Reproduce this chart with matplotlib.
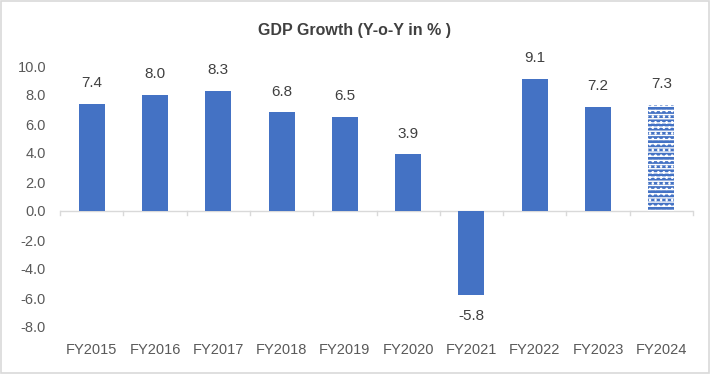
import matplotlib.pyplot as plt
import matplotlib.patches as mpatches

years = ['FY2015', 'FY2016', 'FY2017', 'FY2018', 'FY2019',
         'FY2020', 'FY2021', 'FY2022', 'FY2023', 'FY2024']
growth = [7.4, 8.0, 8.3, 6.8, 6.5, 3.9, -5.8, 9.1, 7.2, 7.3]
yticks = [10.0, 8.0, 6.0, 4.0, 2.0, 0.0, -2.0, -4.0, -6.0, -8.0]

blue = '#4472C4'
grey_txt = '#595959'
plt.rcParams['font.family'] = ['Liberation Sans', 'DejaVu Sans']
plt.rcParams['hatch.linewidth'] = 1.0

fig = plt.figure(figsize=(7.1, 3.74), dpi=100)
ax = fig.add_axes([60 / 710, 47 / 374, 633 / 710, 261 / 374])

x = list(range(len(years)))
bars = ax.bar(x, growth, width=0.41, color=blue, zorder=2)
# last year is an estimate -> patterned bar
bars[-1].set_hatch('----...')
bars[-1].set_edgecolor('white')
bars[-1].set_linewidth(0)

for xi, v in zip(x, growth):
    off = 10 if v >= 0 else -10
    ax.annotate(f'{v:.1f}', (xi, v), xytext=(0, off), textcoords='offset points',
                ha='center', va='bottom' if v >= 0 else 'top',
                fontsize=11, color='#404040')

ax.set_xlim(-0.5, len(years) - 0.5)
ax.set_ylim(-8, 10)
ax.set_yticks(yticks)
ax.set_yticklabels([f'{t:.1f}' for t in yticks], fontsize=10.5, color=grey_txt)
ax.tick_params(axis='y', length=0, pad=10)

for s in ax.spines.values():
    s.set_visible(False)
ax.axhline(0, color='#D9D9D9', lw=1, zorder=1)

# category ticks hang below the zero line, labels sit at the bottom
ax.set_xticks([])
for b in [i - 0.5 for i in range(len(years) + 1)]:
    ax.plot([b, b], [0, -0.28], color='#D9D9D9', lw=1, zorder=1, clip_on=False)
for xi, lab in zip(x, years):
    ax.text(xi, -9.1, lab, ha='center', va='top', fontsize=10.5, color=grey_txt,
            transform=ax.transData)

fig.text(0.5, 1 - 31 / 374, 'GDP Growth (Y-o-Y in % )', ha='center', va='center',
         fontsize=11.5, fontweight='bold', color='#404040')

fig.patches.append(mpatches.Rectangle((0.002, 0.003), 0.996, 0.994, transform=fig.transFigure,
                                      fill=False, edgecolor='#D9D9D9', lw=1.2))

fig.savefig('out.png', dpi=100)
